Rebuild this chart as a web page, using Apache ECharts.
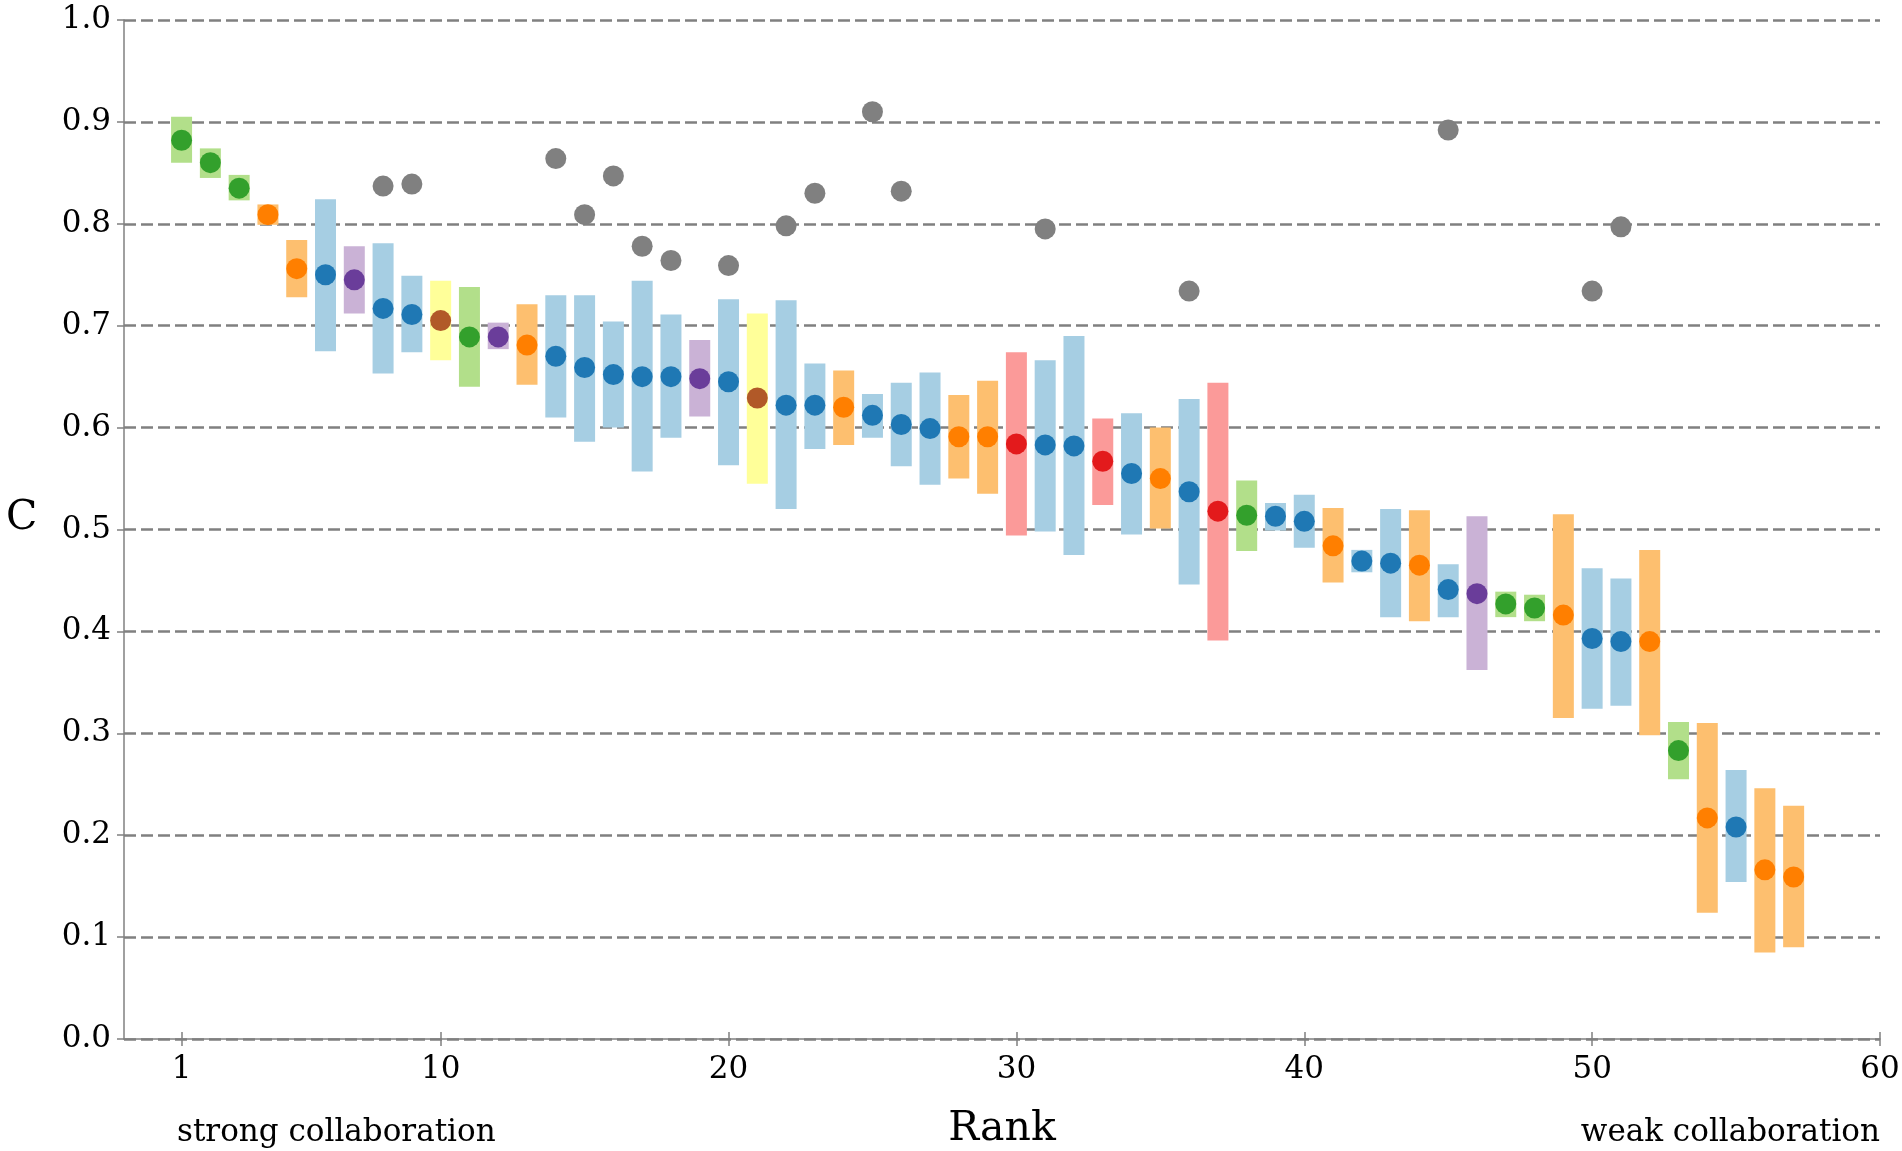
<!DOCTYPE html>
<html>
<head>
    <meta charset="UTF-8">
    <title>C by rank</title>
    <script src="https://cdn.jsdelivr.net/npm/echarts@6/dist/echarts.min.js"></script>
    <style>
        html, body { margin: 0; padding: 0; background: #ffffff; }
        #main { width: 1902px; height: 1151px; }
    </style>
</head>
<body>
<div id="main"></div>
<script type="text/javascript">
    // rank of each entry
    var ranks = [1, 2, 3, 4, 5, 6, 7, 8, 9, 10,
        11, 12, 13, 14, 15, 16, 17, 18, 19, 20,
        21, 22, 23, 24, 25, 26, 27, 28, 29, 30,
        31, 32, 33, 34, 35, 36, 37, 38, 39, 40,
        41, 42, 43, 44, 45, 46, 47, 48, 49, 50,
        51, 52, 53, 54, 55, 56, 57];

    // colour group of each entry
    var groups = ['green', 'green', 'green', 'orange', 'orange', 'blue', 'purple', 'blue', 'blue', 'yellow',
        'green', 'purple', 'orange', 'blue', 'blue', 'blue', 'blue', 'blue', 'purple', 'blue',
        'yellow', 'blue', 'blue', 'orange', 'blue', 'blue', 'blue', 'orange', 'orange', 'red',
        'blue', 'blue', 'red', 'blue', 'orange', 'blue', 'red', 'green', 'blue', 'blue',
        'orange', 'blue', 'blue', 'orange', 'blue', 'purple', 'green', 'green', 'orange', 'blue',
        'blue', 'orange', 'green', 'orange', 'blue', 'orange', 'orange'];

    var means = [0.882, 0.860, 0.835, 0.809, 0.756, 0.750, 0.745, 0.717, 0.711, 0.705,
        0.689, 0.689, 0.681, 0.670, 0.659, 0.652, 0.650, 0.650, 0.648, 0.645,
        0.629, 0.622, 0.622, 0.620, 0.612, 0.603, 0.599, 0.591, 0.591, 0.584,
        0.583, 0.582, 0.567, 0.555, 0.550, 0.537, 0.518, 0.514, 0.513, 0.508,
        0.484, 0.469, 0.467, 0.465, 0.441, 0.437, 0.427, 0.423, 0.416, 0.393,
        0.390, 0.390, 0.283, 0.217, 0.208, 0.166, 0.159];

    var lows = [0.860, 0.845, 0.823, 0.799, 0.728, 0.675, 0.712, 0.653, 0.674, 0.666,
        0.640, 0.677, 0.642, 0.610, 0.586, 0.600, 0.557, 0.590, 0.611, 0.563,
        0.545, 0.520, 0.579, 0.583, 0.590, 0.562, 0.544, 0.550, 0.535, 0.494,
        0.498, 0.475, 0.524, 0.495, 0.501, 0.446, 0.391, 0.479, 0.499, 0.482,
        0.448, 0.458, 0.414, 0.410, 0.414, 0.362, 0.414, 0.410, 0.315, 0.324,
        0.327, 0.298, 0.255, 0.124, 0.154, 0.085, 0.090];

    var highs = [0.905, 0.874, 0.848, 0.819, 0.784, 0.824, 0.778, 0.781, 0.749, 0.744,
        0.738, 0.703, 0.721, 0.730, 0.730, 0.704, 0.744, 0.711, 0.686, 0.726,
        0.712, 0.725, 0.663, 0.656, 0.633, 0.644, 0.654, 0.632, 0.646, 0.674,
        0.666, 0.690, 0.609, 0.614, 0.600, 0.628, 0.644, 0.548, 0.526, 0.534,
        0.521, 0.480, 0.520, 0.519, 0.466, 0.513, 0.439, 0.436, 0.515, 0.462,
        0.452, 0.480, 0.311, 0.310, 0.264, 0.246, 0.229];

    // grey points
    var outlierRanks = [8, 9, 14, 15, 16, 17, 18, 20, 22, 23, 25, 26, 31, 36, 45, 50, 51];
    var outlierValues = [0.837, 0.839, 0.864, 0.809, 0.847, 0.778, 0.764, 0.759, 0.798, 0.830,
        0.910, 0.832, 0.795, 0.734, 0.892, 0.734, 0.797];

    var xTicks = [1, 10, 20, 30, 40, 50, 60];

    var light = {blue: '#a6cee3', green: '#b2df8a', red: '#fb9a99', orange: '#fdbf6f', purple: '#cab2d6', yellow: '#ffff99'};
    var dark = {blue: '#1f78b4', green: '#33a02c', red: '#e31a1c', orange: '#ff7f00', purple: '#6a3d9a', yellow: '#b15928'};

    var font = 'DejaVu Serif';
    var axisGrey = '#808080';

    var rangeData = [], meanData = [], outlierData = [];
    for (var i = 0; i < ranks.length; i++) {
        rangeData.push({value: [ranks[i], lows[i], highs[i]], itemStyle: {color: light[groups[i]]}});
        meanData.push({value: [ranks[i], means[i]], itemStyle: {color: dark[groups[i]]}});
    }
    for (var j = 0; j < outlierRanks.length; j++) {
        outlierData.push([outlierRanks[j], outlierValues[j]]);
    }

    var myChart = echarts.init(document.getElementById('main'));

    var option = {
        animation: false,
        grid: {left: 124, right: 22, top: 20, bottom: 112, outerBoundsMode: 'none'},
        xAxis: [
            {
                type: 'value',
                min: -1,
                max: 60,
                name: 'Rank',
                nameLocation: 'middle',
                nameGap: 90,
                nameTextStyle: {fontFamily: font, fontSize: 41, color: '#000', verticalAlign: 'middle'},
                axisLine: {onZero: false, lineStyle: {color: axisGrey, width: 1.5}},
                axisTick: {show: true, customValues: xTicks, length: 7, lineStyle: {color: axisGrey, width: 1.5}},
                axisLabel: {customValues: xTicks, margin: 15, fontFamily: font, fontSize: 31, color: '#000'},
                splitLine: {show: false}
            },
            {
                // inward half of the ticks
                type: 'value',
                position: 'bottom',
                min: -1,
                max: 60,
                axisLine: {show: false, onZero: false},
                axisTick: {show: true, inside: true, customValues: xTicks, length: 7, lineStyle: {color: axisGrey, width: 1.5}},
                axisLabel: {show: false},
                splitLine: {show: false}
            }
        ],
        yAxis: {
            type: 'value',
            min: 0,
            max: 1,
            interval: 0.1,
            axisLine: {show: true, onZero: false, lineStyle: {color: axisGrey, width: 1.5}},
            axisTick: {show: true, length: 7, lineStyle: {color: axisGrey, width: 1.5}},
            axisLabel: {
                margin: 13, fontFamily: font, fontSize: 31, color: '#000',
                formatter: function (v) { return v.toFixed(1); }
            },
            splitLine: {show: true, lineStyle: {color: axisGrey, width: 2.5, type: [12, 5]}}
        },
        graphic: [
            {type: 'text', style: {x: 6, y: 518, text: 'C', font: '41px "DejaVu Serif"', fill: '#000', verticalAlign: 'middle'}},
            {type: 'text', style: {x: 177, y: 1133, text: 'strong collaboration', font: '31px "DejaVu Serif"', fill: '#000', verticalAlign: 'middle'}},
            {type: 'text', style: {x: 1880, y: 1133, text: 'weak collaboration', font: '31px "DejaVu Serif"', fill: '#000', align: 'right', verticalAlign: 'middle'}}
        ],
        series: [
            {
                name: 'range',
                type: 'custom',
                z: 2,
                data: rangeData,
                renderItem: function (params, api) {
                    var top = api.coord([api.value(0), api.value(2)]);
                    var bottom = api.coord([api.value(0), api.value(1)]);
                    var w = 21;
                    return {
                        type: 'rect',
                        shape: {x: top[0] - w / 2, y: top[1], width: w, height: bottom[1] - top[1]},
                        style: {fill: api.visual('color')}
                    };
                }
            },
            {
                name: 'C',
                type: 'scatter',
                z: 3,
                symbolSize: 21,
                itemStyle: {opacity: 1},
                data: meanData
            },
            {
                name: 'other',
                type: 'scatter',
                z: 3,
                symbolSize: 21,
                itemStyle: {color: '#808080', opacity: 1},
                data: outlierData
            }
        ]
    };

    myChart.setOption(option);
</script>
</body>
</html>
